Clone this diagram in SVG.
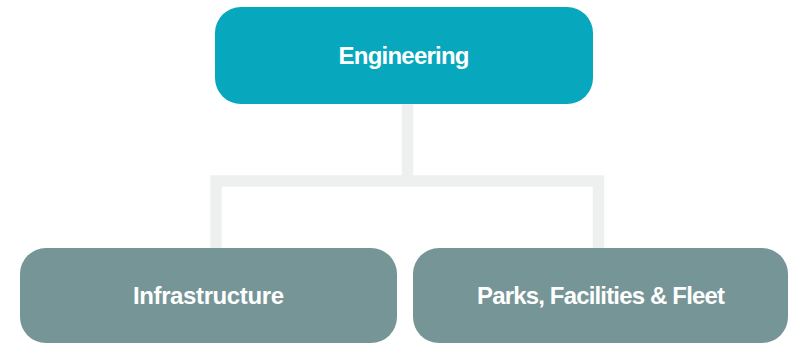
<svg xmlns="http://www.w3.org/2000/svg" width="789" height="344" viewBox="0 0 789 344">
  <style>
    .conn { fill: none; stroke: #eef0f0; stroke-width: 11.5; stroke-linejoin: miter; }
    .top { fill: #07a7bd; }
    .sub { fill: #759596; }
    .lbl { font-family: "Liberation Sans", Arial, sans-serif; font-weight: bold; fill: #ffffff; text-anchor: middle; font-size: 24px; }
  </style>
  <rect width="789" height="344" fill="#ffffff"/>
  <g id="connectors">
    <path class="conn" d="M407.5 100 V181"/>
    <path class="conn" d="M216 252 V181 H598.5 V252"/>
  </g>
  <g id="node-engineering">
    <rect class="top" x="215" y="7" width="378" height="97" rx="26" ry="26"/>
    <text class="lbl" x="404" y="64" textLength="131" lengthAdjust="spacing">Engineering</text>
  </g>
  <g id="node-infrastructure">
    <rect class="sub" x="20" y="248" width="377" height="95" rx="26" ry="26"/>
    <text class="lbl" x="208.5" y="304" textLength="151" lengthAdjust="spacing">Infrastructure</text>
  </g>
  <g id="node-parks">
    <rect class="sub" x="413" y="248" width="375" height="95" rx="26" ry="26"/>
    <text class="lbl" x="601" y="304" textLength="248" lengthAdjust="spacing">Parks, Facilities &amp; Fleet</text>
  </g>
</svg>
